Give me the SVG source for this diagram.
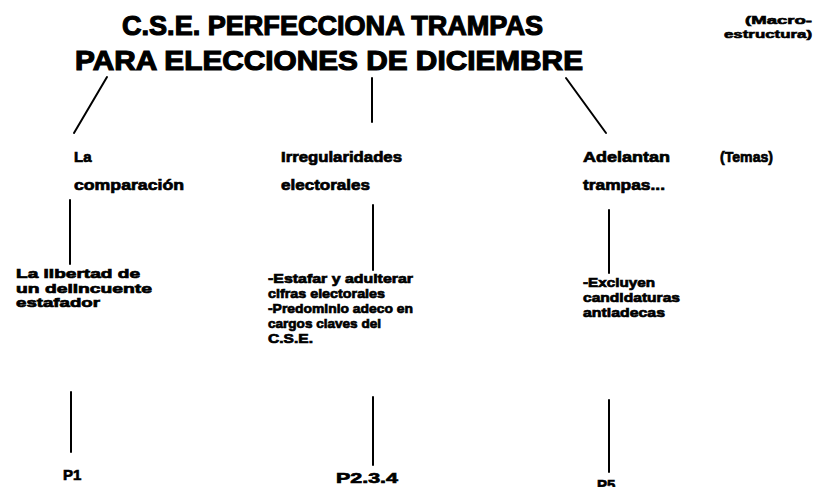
<svg xmlns="http://www.w3.org/2000/svg" width="821" height="487" viewBox="0 0 821 487">
<style>
text{font-family:"Liberation Sans",Arial,sans-serif;font-weight:bold;fill:#000;stroke:#000}
.t{font-size:28px;stroke-width:1.2}
.s{font-size:15px;stroke-width:0.7}
.b{font-size:13px;stroke-width:0.7}
.m{font-size:11px;stroke-width:0.6}
.c line{stroke:#000;stroke-width:2;stroke-linecap:round}
</style>
<rect width="821" height="487" fill="#fff"/>
<g id="title">
<text class="t" x="122" y="35" textLength="421" lengthAdjust="spacingAndGlyphs">C.S.E. PERFECCIONA TRAMPAS</text>
<text class="t" x="75" y="70" textLength="508" lengthAdjust="spacingAndGlyphs">PARA ELECCIONES DE DICIEMBRE</text>
</g>
<g id="macro">
<text class="m" x="745" y="24" textLength="67" lengthAdjust="spacingAndGlyphs">(Macro-</text>
<text class="m" x="724" y="38" textLength="88" lengthAdjust="spacingAndGlyphs">estructura)</text>
</g>
<g id="tema1">
<text class="s" x="74" y="162">La</text>
<text class="s" x="74" y="190" textLength="110" lengthAdjust="spacingAndGlyphs">comparación</text>
</g>
<g id="tema2">
<text class="s" x="281" y="162" textLength="121" lengthAdjust="spacingAndGlyphs">Irregularidades</text>
<text class="s" x="281" y="190" textLength="89" lengthAdjust="spacingAndGlyphs">electorales</text>
</g>
<g id="tema3">
<text class="s" x="583" y="162" textLength="87" lengthAdjust="spacingAndGlyphs">Adelantan</text>
<text class="s" x="583" y="190" textLength="82" lengthAdjust="spacingAndGlyphs">trampas...</text>
</g>
<g id="temas">
<text class="s" x="720" y="162" textLength="53" lengthAdjust="spacingAndGlyphs">(Temas)</text>
</g>
<g id="sub1">
<text class="b" x="16" y="278" textLength="124" lengthAdjust="spacingAndGlyphs">La libertad de</text>
<text class="b" x="16" y="293" textLength="136" lengthAdjust="spacingAndGlyphs">un delincuente</text>
<text class="b" x="16" y="307" textLength="84" lengthAdjust="spacingAndGlyphs">estafador</text>
</g>
<g id="sub2">
<text class="b" x="268" y="283" textLength="145" lengthAdjust="spacingAndGlyphs">-Estafar y adulterar</text>
<text class="b" x="268" y="298" textLength="117" lengthAdjust="spacingAndGlyphs">cifras electorales</text>
<text class="b" x="268" y="313" textLength="145" lengthAdjust="spacingAndGlyphs">-Predominio adeco en</text>
<text class="b" x="268" y="328" textLength="113" lengthAdjust="spacingAndGlyphs">cargos claves del</text>
<text class="b" x="268" y="343" textLength="45" lengthAdjust="spacingAndGlyphs">C.S.E.</text>
</g>
<g id="sub3">
<text class="b" x="583" y="287" textLength="72" lengthAdjust="spacingAndGlyphs">-Excluyen</text>
<text class="b" x="583" y="302" textLength="97" lengthAdjust="spacingAndGlyphs">candidaturas</text>
<text class="b" x="583" y="317" textLength="82" lengthAdjust="spacingAndGlyphs">antiadecas</text>
</g>
<g id="p1"><text class="s" x="63" y="480">P1</text></g>
<g id="p234"><text class="s" x="336" y="483" textLength="62" lengthAdjust="spacingAndGlyphs">P2.3.4</text></g>
<g id="p5"><text class="s" x="597" y="490">P5</text></g>
<g id="connectors" class="c">
<line x1="107" y1="77" x2="74" y2="133"/>
<line x1="372" y1="78" x2="372" y2="122"/>
<line x1="566" y1="78" x2="606" y2="133"/>
<line x1="70" y1="200" x2="70" y2="264"/>
<line x1="373" y1="205" x2="373" y2="270"/>
<line x1="609" y1="210" x2="609" y2="273"/>
<line x1="71" y1="392" x2="71" y2="452"/>
<line x1="373" y1="397" x2="373" y2="465"/>
<line x1="609" y1="400" x2="609" y2="472"/>
</g>
</svg>
